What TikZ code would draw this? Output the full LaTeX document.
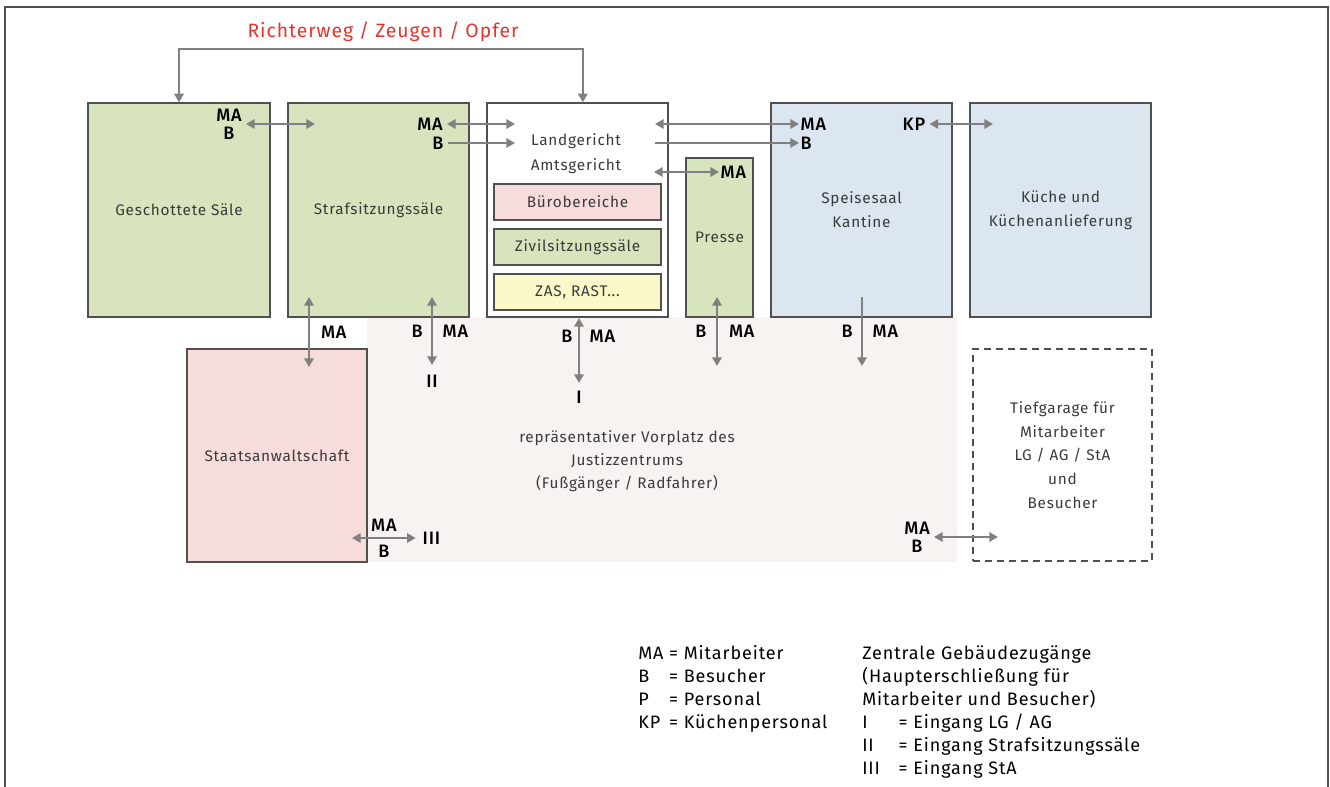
\documentclass[tikz,border=0pt]{standalone}
\usepackage{fontspec}
\setmainfont{Fira Sans}[LetterSpace=5]
\newfontfamily\tagfont{Fira Sans Medium}[LetterSpace=5]
\usetikzlibrary{arrows.meta}
\usetikzlibrary{calc}
\usetikzlibrary{positioning}

\definecolor{roomgreen}{HTML}{D7E4BD}
\definecolor{roompink}{HTML}{F6DCDB}
\definecolor{roomyellow}{HTML}{FAF7C8}
\definecolor{roomblue}{HTML}{DCE6F0}
\definecolor{plaza}{HTML}{F8F3F1}
\definecolor{wayred}{HTML}{E8322B}
\definecolor{waygray}{HTML}{808080}
\definecolor{edgegray}{HTML}{505050}
\definecolor{textgray}{HTML}{3A3A3A}

\tikzset{
	room/.style={draw=edgegray, line width=1pt, inner sep=0pt, align=center, text=textgray, font=\fontsize{11.5}{18}\selectfont},
	way/.style={draw=waygray, line width=2pt, >={Triangle[length=6.5pt,width=7pt]}},
	tag/.style={inner sep=1pt, font=\tagfont\fontsize{13.5}{13.5}\selectfont},
}

\begin{document}
\begin{tikzpicture}[x=0.75pt,y=-0.75pt]
		\useasboundingbox (0,0) rectangle (1330,787);
		\draw[edgegray, line width=1pt] (5,800) |- (1328,7) -- (1328,800);

		% Vorplatz
		\node[fill=plaza, inner sep=0pt, minimum width=442.5pt, minimum height=183.75pt] (vorplatz) at (662,439.5) {};
		\node[text=textgray, align=center, font=\fontsize{11.5}{17.25}\selectfont] (platz) at (627,461) {repräsentativer Vorplatz des\\Justizzentrums\\(Fußgänger / Radfahrer)};

		% Raeume
		\node[room, fill=roomgreen, minimum width=136.5pt, minimum height=160.5pt] (gesch) at (179,210) {Geschottete Säle};
		\node[room, fill=roomgreen, minimum width=135.75pt, minimum height=160.5pt] (straf) at (378.5,210) {Strafsitzungssäle};
		\node[room, fill=white, minimum width=135.75pt, minimum height=160.5pt] (lgag) at (577.5,210) {};
		\node[text=textgray, align=center, font=\fontsize{11.5}{18.75}\selectfont] (lgtext) at (576,153.5) {Landgericht\\Amtsgericht};
		\node[room, fill=roompink, minimum width=125.25pt, minimum height=27pt] (buero) at (577.5,202) {Bürobereiche};
		\node[room, fill=roomgreen, minimum width=125.25pt, minimum height=27pt] (zivil) at (577.5,247) {Zivilsitzungssäle};
		\node[room, fill=roomyellow, minimum width=125.25pt, minimum height=27pt] (zas) at (577.5,292) {ZAS, RAST...};
		\node[room, fill=roomgreen, minimum width=50.25pt, minimum height=119.25pt] (presse) at (719.5,237.5) {Presse};
		\node[room, fill=roomblue, minimum width=135.75pt, minimum height=160.5pt] (speise) at (861.5,210) {Speisesaal\\Kantine};
		\node[room, fill=roomblue, minimum width=135.75pt, minimum height=160.5pt] (kueche) at (1060.5,210) {Küche und\\Küchenanlieferung};
		\node[room, fill=roompink, minimum width=135pt, minimum height=159.75pt] (sta) at (277,455.5) {Staatsanwaltschaft};
		\node[room, dash pattern=on 5pt off 4pt, font=\fontsize{11.5}{17.8}\selectfont, minimum width=134.25pt, minimum height=159pt] (garage) at (1062.5,455) {Tiefgarage für\\Mitarbeiter\\LG / AG / StA\\und\\Besucher};

		% Richterweg
		\node[text=wayred, font=\fontsize{14.5}{16}\selectfont] (richter) at (383,32) {Richterweg / Zeugen / Opfer};
		\coordinate (rwtop) at (380,49);
		\draw[way, <->] (gesch.north) |- (rwtop) -| ([xshift=4pt]lgag.north);

		% waagerechte Wege
		\node[tag, align=center] (gmab) at (229,124) {MA\\B};
		\coordinate (g2) at (315,124);
		\draw[way, <->] ([xshift=2pt]gmab.east) -- (g2);

		\node[tag] (sma) at (430,124) {MA};
		\node[tag] (sb) at (438,143) {B};
		\coordinate (l1) at (515,124);
		\coordinate (l2) at (515,143);
		\draw[way, <->] ([xshift=2pt]sma.east) -- (l1);
		\draw[way, ->] ([xshift=2pt]sb.east) -- (l2);

		\node[tag, anchor=west] (kma) at (799,124) {MA};
		\node[tag, anchor=west] (kb) at (799,143) {B};
		\coordinate (l3) at (655,124);
		\coordinate (l4) at (655,143);
		\draw[way, <->] (l3) -- (kma.west);
		\draw[way, ->] (l4) -- (kb.west);

		\node[tag, anchor=west] (pma) at (719,172) {MA};
		\coordinate (l5) at (654,172);
		\draw[way, <->] (l5) -- (pma.west);

		\node[tag] (kp) at (914,124) {KP};
		\coordinate (k2) at (993,124);
		\draw[way, <->] ([xshift=2pt]kp.east) -- (k2);

		% senkrechte Wege
		\coordinate (s1) at (309,297);
		\coordinate (s2) at (309,367);
		\draw (s1) edge[way, <->] node[tag, midway, right=7pt] (sama) {MA} (s2);

		\coordinate (s3) at (432,297);
		\coordinate (s4) at (432,365);
		\node[tag] (eii) at (432,381) {II};
		\draw (s3) edge[way, <->] node[tag, midway, left=5pt] (iib) {B} node[tag, midway, right=6pt] (iima) {MA} (s4);

		\coordinate (s5) at (579,318);
		\coordinate (s6) at (579,383);
		\node[tag] (ei) at (579,397) {I};
		\draw (s5) edge[way, <->] node[tag, pos=0.28, left=3pt] (ib) {B} node[tag, pos=0.28, right=6pt] (ima) {MA} (s6);

		\coordinate (s7) at (717,297);
		\coordinate (s8) at (717,366);
		\draw (s7) edge[way, <->] node[tag, midway, left=6pt] (pb) {B} node[tag, midway, right=7pt] (pbma) {MA} (s8);

		\coordinate (s9) at (862,297);
		\coordinate (s10) at (862,366);
		\draw (s9) edge[way, ->] node[tag, midway, left=5pt] (kab) {B} node[tag, midway, right=6pt] (kama) {MA} (s10);

		\node[tag, anchor=west] (eiii) at (421,538) {III};
		\coordinate (t1) at (352,538);
		\draw (t1) edge[way, <->] node[tag, midway, above=3pt] (iiima) {MA} node[tag, midway, below=3pt] (iiib) {B} ([xshift=-4pt]eiii.west);

		\node[tag, align=center] (tmab) at (917,537) {MA\\B};
		\coordinate (t4) at (998,537);
		\draw[way, <->] ([xshift=2pt]tmab.east) -- (t4);

		% Legende
		\node[anchor=north west, inner sep=0pt, font=\fontsize{13.5}{17.25}\selectfont] (legwer) at (638,643) {%
			\begin{tabular}{@{}l@{\ }l@{}}
			MA & = Mitarbeiter\\
			B & = Besucher\\
			P & = Personal\\
			KP & = Küchenpersonal
			\end{tabular}};
		\node[anchor=north west, inner sep=0pt, font=\fontsize{13.5}{17.25}\selectfont] (legzu) at (862,643) {%
			\begin{tabular}{@{}l@{\hspace{14pt}}l@{}}
			\multicolumn{2}{@{}l@{}}{Zentrale Gebäudezugänge}\\
			\multicolumn{2}{@{}l@{}}{(Haupterschließung für}\\
			\multicolumn{2}{@{}l@{}}{Mitarbeiter und Besucher)}\\
			I & = Eingang LG / AG\\
			II & = Eingang Strafsitzungssäle\\
			III & = Eingang StA
			\end{tabular}};
	\end{tikzpicture}
\end{document}
